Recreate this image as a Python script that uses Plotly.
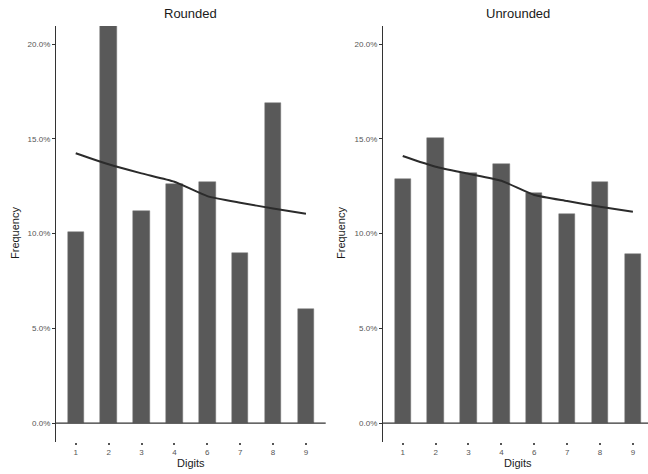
import plotly.graph_objects as go

digits = ["1", "2", "3", "4", "6", "7", "8", "9"]
rounded_freq = [0.101, 0.210, 0.112, 0.126, 0.127, 0.090, 0.169, 0.060]
rounded_expected = [0.1424, 0.1366, 0.1318, 0.1274, 0.1198, 0.1163, 0.1133, 0.1105]
unrounded_freq = [0.129, 0.1505, 0.132, 0.1367, 0.1216, 0.1102, 0.1274, 0.0894]
unrounded_expected = [0.1410, 0.1353, 0.1316, 0.1279, 0.1204, 0.1172, 0.1142, 0.1116]
panel_titles = ["Rounded", "Unrounded"]
y_ticks = [0.0, 0.05, 0.10, 0.15, 0.20]

W, H = 648, 474
BAR = "#595959"
LINE = "#2b2b2b"
AX = "#333333"
FONT = "Liberation Sans, Arial, sans-serif"
TICKFONT = dict(family=FONT, size=8, color="#555555")

fig = go.Figure()

panels = [
    (rounded_freq, rounded_expected, "x", "y", (56, 325.7), [-0.6, 7.6]),
    (unrounded_freq, unrounded_expected, "x2", "y2", (383, 648), [-0.6, 7.46]),
]
ytop, ybot = 26, 442

for i, (freq, exp, xa, ya, (px0, px1), xr) in enumerate(panels):
    fig.add_trace(go.Bar(x=digits, y=freq, xaxis=xa, yaxis=ya, width=0.5,
                         marker=dict(color=BAR, line=dict(color="#7a7a7a", width=0.5)),
                         showlegend=False))
    fig.add_trace(go.Scatter(x=digits, y=exp, xaxis=xa, yaxis=ya, mode="lines",
                             line=dict(color=LINE, width=2, shape="spline", smoothing=0.5),
                             showlegend=False))
    sfx = "" if i == 0 else "2"
    fig.layout["xaxis" + sfx] = dict(
        domain=[px0 / W, px1 / W], anchor="y" + sfx, type="category", range=xr,
        showline=False, showgrid=False, zeroline=False,
        ticks="outside", ticklen=2, tickwidth=1.5, tickcolor="#555555",
        tickfont=TICKFONT, fixedrange=True,
    )
    fig.layout["yaxis" + sfx] = dict(
        domain=[1 - ybot / H, 1 - ytop / H], anchor="x" + sfx,
        range=[-0.0100, 0.2096], tickvals=y_ticks, tickformat=".1%",
        showline=True, linecolor=AX, linewidth=1.3, showgrid=False,
        zeroline=False,
        ticks="outside", ticklen=3, tickwidth=1, tickcolor=AX,
        tickfont=TICKFONT, fixedrange=True,
    )
    # horizontal reference line at zero spanning the panel
    fig.add_shape(type="line", xref=xa + " domain", yref=ya, x0=0, x1=1, y0=0, y1=0,
                  line=dict(color=AX, width=1.3), layer="above")
    cx = (56 + 325.7) / 2 if i == 0 else (383 + 652) / 2
    fig.add_annotation(text=panel_titles[i], x=cx / W, y=1 - 13 / H, xref="paper", yref="paper",
                       showarrow=False, xanchor="center", yanchor="middle",
                       font=dict(family=FONT, size=13, color="#1a1a1a"))
    fig.add_annotation(text="Digits", x=cx / W, y=1 - 463 / H, xref="paper", yref="paper",
                       showarrow=False, xanchor="center", yanchor="middle",
                       font=dict(family=FONT, size=11, color="#1a1a1a"))
    fx = 15 if i == 0 else 341
    fig.add_annotation(text="Frequency", x=fx / W, y=1 - 233 / H, xref="paper", yref="paper",
                       showarrow=False, textangle=-90, xanchor="center", yanchor="middle",
                       font=dict(family=FONT, size=11, color="#1a1a1a"))

fig.update_layout(
    width=W, height=H, margin=dict(l=0, r=0, t=0, b=0),
    plot_bgcolor="white", paper_bgcolor="white", bargap=0,
)

fig.write_html("out.html")
